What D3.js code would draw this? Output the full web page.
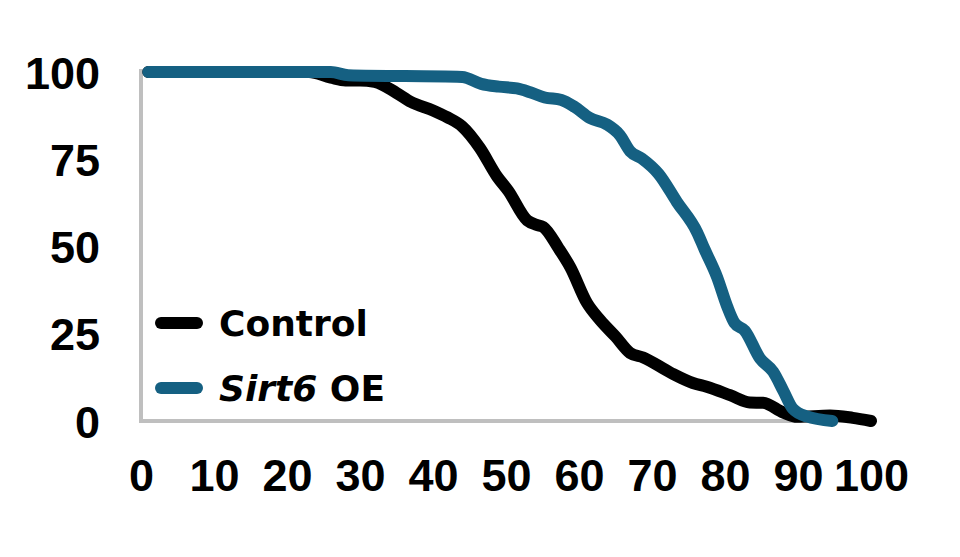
<!DOCTYPE html>
<html>
<head>
<meta charset="utf-8">
<script src="https://cdn.jsdelivr.net/npm/d3@7"></script>
<style>
  html, body { margin: 0; padding: 0; background: #ffffff; }
  svg { display: block; }
</style>
</head>
<body>
<svg id="chart" width="960" height="557"></svg>
<script>
// ---- data ----
const xTicks = [0, 10, 20, 30, 40, 50, 60, 70, 80, 90, 100];
const yTicks = [0, 25, 50, 75, 100];

const controlAge  = [1, 23, 26, 28, 30, 32, 35, 37, 40, 42, 44, 46.4, 48.8, 50.3, 52.9, 54.2, 55.1, 57.2, 58.8, 61.1, 62.9, 65, 67, 68.8, 72.5, 75.6, 77.5, 80.7, 83.4, 85.2, 88, 89.9, 94.4, 97.5, 100];
const controlSurv = [100, 100, 98.4, 97.6, 97.6, 97.2, 94, 91.4, 89, 87, 84.4, 78.3, 70, 66, 57.5, 56.2, 55.6, 49.5, 44.1, 33.8, 28.9, 24.2, 19.5, 18.2, 13.9, 10.9, 9.8, 7.4, 5.3, 5.2, 2.4, 1.2, 1.6, 0.9, 0];

const sirt6Age  = [1, 26, 28.4, 44, 46.6, 49, 51.5, 53.3, 55.3, 57.6, 59.4, 61.5, 63.8, 65.6, 67, 68.6, 70.9, 73.4, 76.2, 77.2, 78.9, 80.3, 81.3, 82.7, 84.8, 86.6, 88, 89.3, 91.2, 94.7];
const sirt6Surv = [100, 100, 99.1, 98.6, 96.6, 95.8, 95.3, 94.2, 92.7, 92, 90, 86.8, 85, 81.9, 77.3, 75.2, 70.8, 62.8, 54, 49.2, 41.3, 32.8, 28.1, 25.9, 17.9, 14.1, 8.6, 3.5, 1.3, 0];

const seriesNames = ["Control", "Sirt6 OE"];
const seriesColors = ["#000000", "#156082"];

// ---- layout ----
const svg = d3.select("#chart");
const x = d3.scaleLinear().domain([0, 100]).range([141, 871]);
const y = d3.scaleLinear().domain([0, 100]).range([421, 72]);
const axisColor = "#bfbfbf";
const labelFont = "'Liberation Sans', Arial, sans-serif";

// y axis
const yAxis = svg.append("g")
  .attr("transform", `translate(${x(0)},0)`)
  .call(d3.axisLeft(y).tickValues(yTicks).tickSize(0).tickSizeOuter(0).tickPadding(41).tickFormat(d3.format("d")));
yAxis.select(".domain").attr("stroke", axisColor).attr("stroke-width", 4)
  .attr("d", `M0,${y(0) + 2}V${y(100) - 3}`);
yAxis.selectAll("text")
  .attr("font-family", labelFont).attr("font-weight", "bold").attr("font-size", 45)
  .attr("fill", "#000").attr("dy", "0.36em");

// x axis
const xAxis = svg.append("g")
  .attr("transform", `translate(0,${y(0)})`)
  .call(d3.axisBottom(x).tickValues(xTicks).tickSize(0).tickSizeOuter(0).tickPadding(38).tickFormat(d3.format("d")));
xAxis.select(".domain").attr("stroke", axisColor).attr("stroke-width", 4)
  .attr("d", `M${x(0) - 2},0H${x(100)}`);
xAxis.selectAll("text")
  .attr("font-family", labelFont).attr("font-weight", "bold").attr("font-size", 45)
  .attr("fill", "#000").attr("dy", "0.71em");

// lines
const line = d3.line()
  .x(d => x(d[0])).y(d => y(d[1]))
  .curve(d3.curveMonotoneX);

const controlData = controlAge.map((a, i) => [a, controlSurv[i]]);
const sirt6Data = sirt6Age.map((a, i) => [a, sirt6Surv[i]]);

[controlData, sirt6Data].forEach((data, i) => {
  svg.append("path")
    .datum(data)
    .attr("d", line)
    .attr("fill", "none")
    .attr("stroke", seriesColors[i])
    .attr("stroke-width", 12)
    .attr("stroke-linecap", "round")
    .attr("stroke-linejoin", "round");
});

// legend
const legendFont = "'DejaVu Sans', sans-serif";
const legend = svg.append("g");
const legendY = [323, 388];
seriesNames.forEach((name, i) => {
  legend.append("line")
    .attr("x1", 161).attr("x2", 197)
    .attr("y1", legendY[i]).attr("y2", legendY[i])
    .attr("stroke", seriesColors[i])
    .attr("stroke-width", 12)
    .attr("stroke-linecap", "round");
  const t = legend.append("text")
    .attr("x", 219).attr("y", legendY[i] + 13)
    .attr("font-family", legendFont).attr("font-weight", "bold")
    .attr("font-size", 36).attr("fill", "#000");
  if (name.startsWith("Sirt6")) {
    t.append("tspan").attr("font-style", "italic").text("Sirt6");
    t.append("tspan").text(name.slice(5));
  } else {
    t.text(name);
  }
});
</script>
</body>
</html>
